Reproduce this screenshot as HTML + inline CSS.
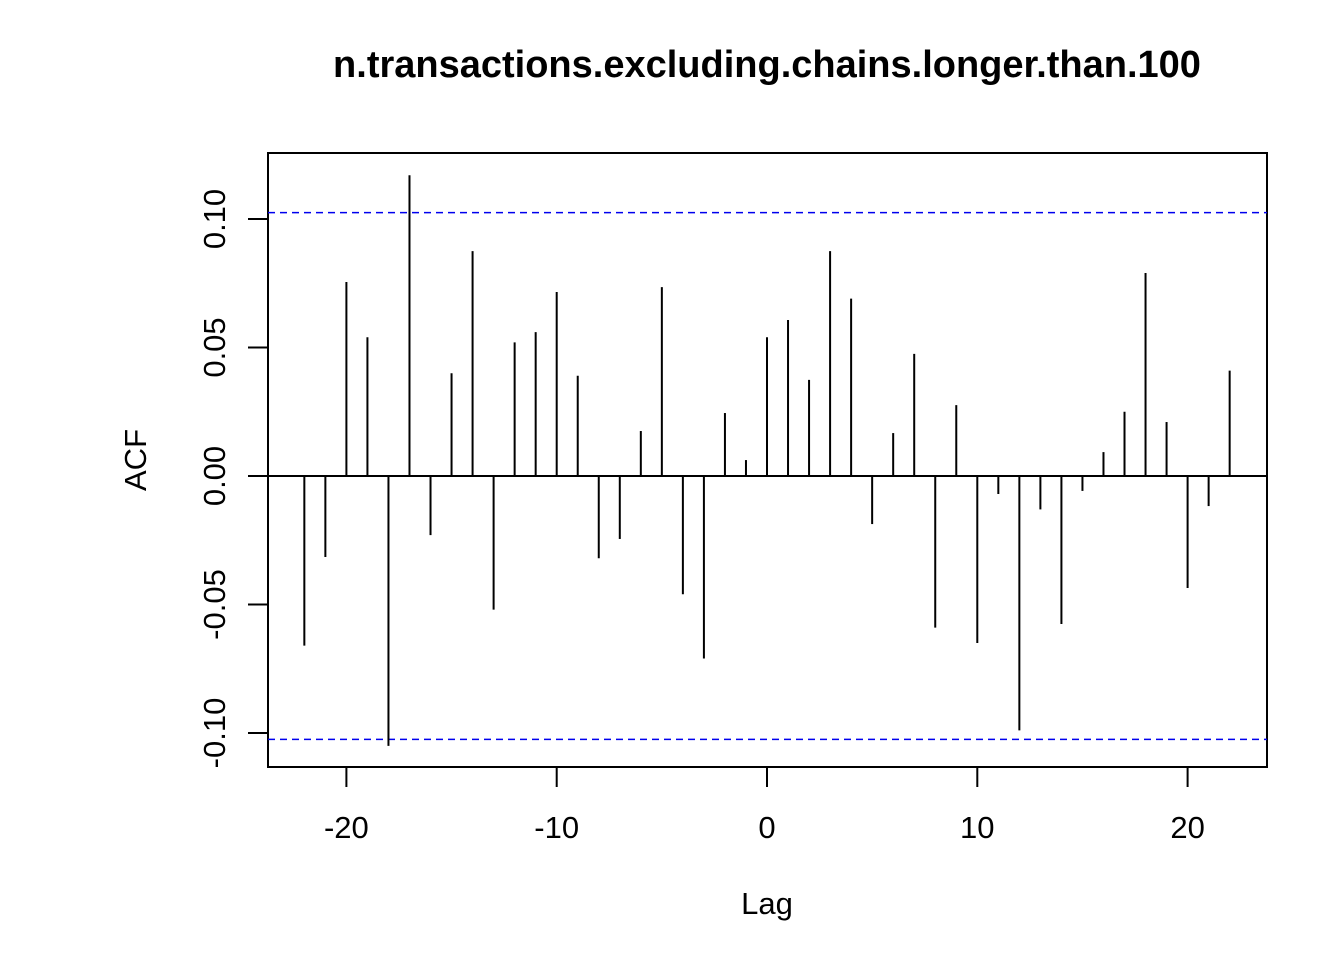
<!DOCTYPE html>
<html><head><meta charset="utf-8"><style>body{margin:0;background:#fff}svg{display:block}</style></head>
<body>
<svg id="chart" width="1344" height="960" xmlns="http://www.w3.org/2000/svg" font-family="Liberation Sans, Arial, sans-serif">
<text x="767" y="77" text-anchor="middle" font-size="38" font-weight="bold">n.transactions.excluding.chains.longer.than.100</text>
<rect x="268" y="153" width="999" height="614" fill="none" stroke="#000" stroke-width="2"/>
<g id="xaxis"></g>
<g id="yaxis"></g>
<g id="bars"></g>
<text x="767" y="914" text-anchor="middle" font-size="31">Lag</text>
<text transform="translate(146,460) rotate(-90)" text-anchor="middle" font-size="31">ACF</text>
</svg>
<script>
const lags = [-22,-21,-20,-19,-18,-17,-16,-15,-14,-13,-12,-11,-10,-9,-8,-7,-6,-5,-4,-3,-2,-1,0,1,2,3,4,5,6,7,8,9,10,11,12,13,14,15,16,17,18,19,20,21,22];
const acf = [-0.066,-0.0315,0.0755,0.054,-0.105,0.117,-0.023,0.040,0.0875,-0.052,0.052,0.056,0.0716,0.039,-0.032,-0.0245,0.0175,0.0735,-0.046,-0.071,0.0245,0.0062,0.054,0.0607,0.0374,0.0875,0.069,-0.0187,0.0167,0.0475,-0.059,0.0276,-0.065,-0.007,-0.099,-0.013,-0.0576,-0.0058,0.0093,0.025,0.079,0.021,-0.0436,-0.0117,0.041];
const xTicks = [-20,-10,0,10,20];
const yTicks = [-0.10,-0.05,0.00,0.05,0.10];
const yTickLabels = ["-0.10","-0.05","0.00","0.05","0.10"];
const ci = 0.1025;
const NS="http://www.w3.org/2000/svg";
const X = v => 767 + v*21.03;
const Y = v => 476 - v*2570;
function mk(tag, attrs, parent){const e=document.createElementNS(NS,tag);for(const k in attrs)e.setAttribute(k,attrs[k]);parent.appendChild(e);return e;}
const xa=document.getElementById('xaxis'), ya=document.getElementById('yaxis'), bars=document.getElementById('bars');
xTicks.forEach(t=>{
  const l=mk('line',{x1:X(t),x2:X(t),y1:767,y2:787,stroke:'#000','stroke-width':2},xa);
  
  
  const tx=mk('text',{x:X(t),y:838,'text-anchor':'middle','font-size':31},xa);
  tx.textContent=t;
  
  
});
yTicks.forEach((t,i)=>{
  const l=mk('line',{x1:248,x2:268,y1:Y(t),y2:Y(t),stroke:'#000','stroke-width':2},ya);
  
  
  const tx=mk('text',{transform:`translate(225,${Y(t)}) rotate(-90)`,'text-anchor':'middle','font-size':31},ya);
  tx.textContent=yTickLabels[i];
  
  
});
const z=mk('line',{x1:268,x2:1267,y1:Y(0),y2:Y(0),stroke:'#000','stroke-width':2},bars);


[ci,-ci].forEach(c=>{
  const l=mk('line',{x1:268,x2:1267,y1:Y(c),y2:Y(c),stroke:'#0000ee','stroke-width':1.5,'stroke-dasharray':'7 5'},bars);
  
  
});
lags.forEach((g,i)=>{
  const l=mk('line',{x1:X(g),x2:X(g),y1:Y(0),y2:Y(acf[i]),stroke:'#000','stroke-width':2},bars);
  
  
});
</script>
</body></html>
